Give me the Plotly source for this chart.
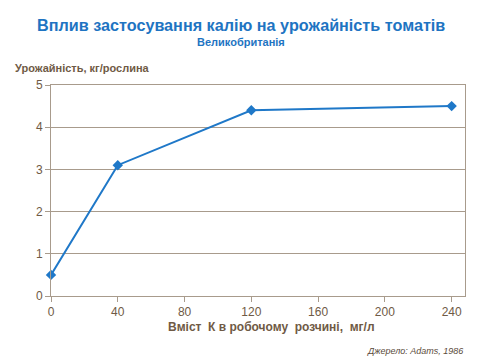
import plotly.graph_objects as go

potassium = [0, 40, 120, 240]
yield_kg = [0.5, 3.1, 4.4, 4.5]
x_ticks = [0, 40, 80, 120, 160, 200, 240]
y_ticks = [0, 1, 2, 3, 4, 5]

text_col = "#6f5a45"
grid_col = "#a89b8c"
blue = "#1f78c8"

fig = go.Figure()
fig.add_trace(go.Scatter(
    x=potassium, y=yield_kg, mode="lines+markers",
    line=dict(color=blue, width=2),
    marker=dict(symbol="diamond", size=8, color=blue),
    showlegend=False, cliponaxis=False,
))

fig.update_layout(
    width=480, height=360,
    margin=dict(l=51, r=15, t=85, b=64),
    paper_bgcolor="white", plot_bgcolor="white",
    font=dict(family="Liberation Sans, Arial", color=text_col),
    xaxis=dict(range=[0, 248], tickvals=x_ticks, showgrid=False, zeroline=False,
               showline=True, mirror=True, linecolor=grid_col, linewidth=1,
               ticks="outside", ticklen=5, tickcolor=grid_col,
               tickfont=dict(size=12, color=text_col)),
    yaxis=dict(range=[0, 5], tickvals=y_ticks, showgrid=True, gridcolor=grid_col,
               zeroline=False, showline=True, mirror=True, linecolor=grid_col,
               linewidth=1, ticks="outside", ticklen=5, tickcolor=grid_col,
               tickfont=dict(size=12, color=text_col)),
    annotations=[
        dict(text="<b>Вплив застосування калію на урожайність томатів</b>",
             xref="paper", yref="paper", x=0.46, y=1.0, yshift=60,
             xanchor="center", yanchor="middle", showarrow=False,
             font=dict(size=16.2, color="#1e74c2")),
        dict(text="<b>Великобританія</b>",
             xref="paper", yref="paper", x=0.46, y=1.0, yshift=43,
             xanchor="center", yanchor="middle", showarrow=False,
             font=dict(size=11, color="#1e74c2")),
        dict(text="<b>Урожайність, кг/рослина</b>",
             xref="paper", yref="paper", x=0, xshift=-38, y=1.0, yshift=17,
             xanchor="left", yanchor="middle", showarrow=False,
             font=dict(size=11, color=text_col)),
        dict(text="<b>Вміст  К в робочому  розчині,  мг/л</b>",
             xref="paper", yref="paper", x=0.533, y=0, yshift=-31,
             xanchor="center", yanchor="middle", showarrow=False,
             font=dict(size=12, color=text_col)),
        dict(text="<i>Джерело: Adams, 1986</i>",
             xref="paper", yref="paper", x=1.0, y=0, yshift=-55,
             xanchor="right", yanchor="middle", showarrow=False,
             font=dict(size=9, color="#5a4a3a")),
    ],
)

fig.write_html("out.html", config={"displayModeBar": False},
               post_script="document.body.style.margin='0';document.body.style.overflow='hidden';")
